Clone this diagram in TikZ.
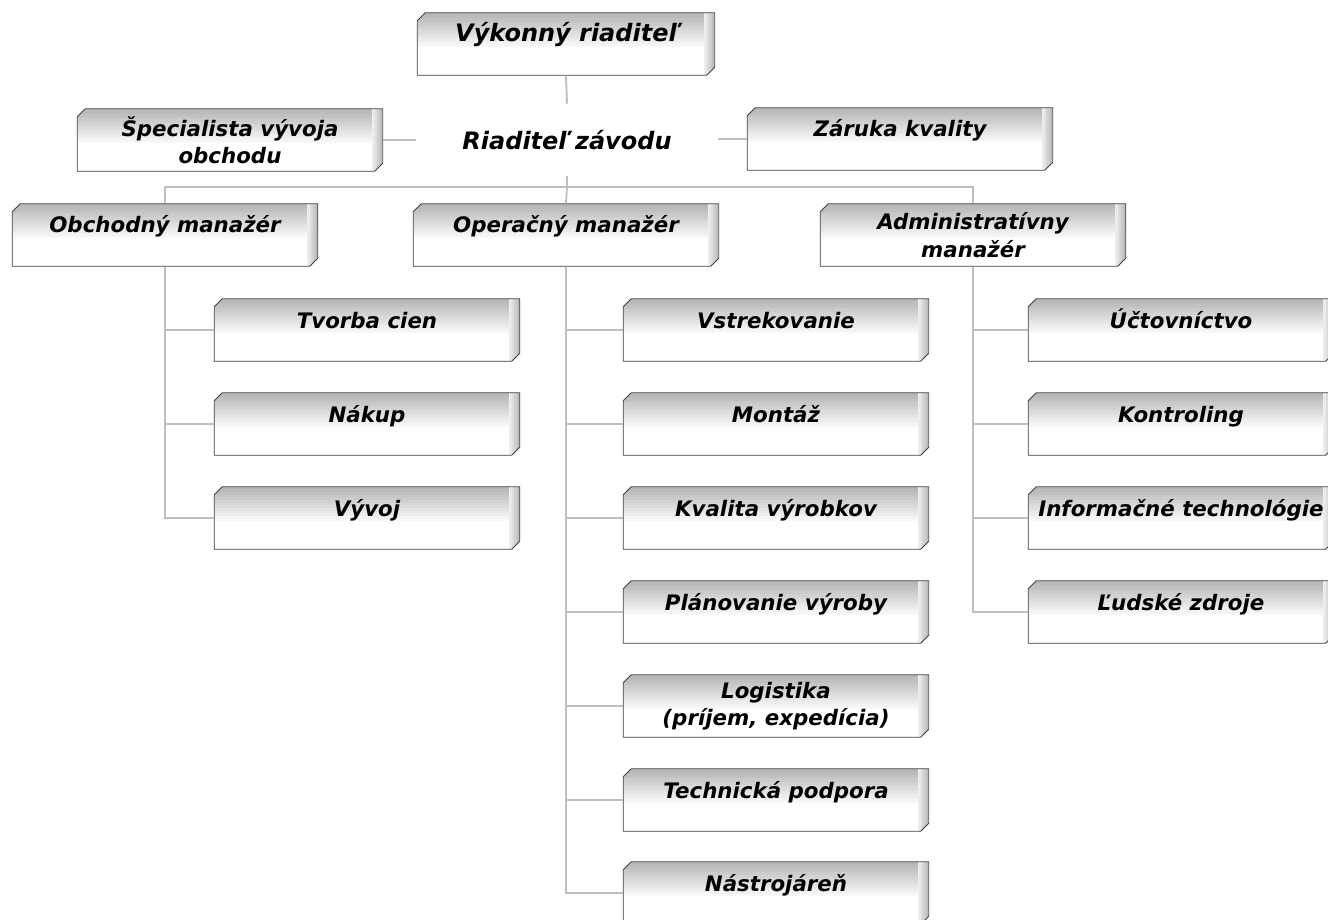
\documentclass[tikz,border=0pt]{standalone}
\usepackage{fontspec}
\setmainfont{DejaVu Sans}
\usetikzlibrary{shapes.misc}
\newcommand{\boxfont}{\fontsize{16}{20.5}\selectfont\bfseries\itshape}
\newcommand{\bigfont}{\fontsize{18}{22}\selectfont\bfseries\itshape}

\begin{document}
\begin{tikzpicture}
[x=.75pt,y=-.75pt]
\tikzset{box/.style={chamfered rectangle,chamfered rectangle corners={north west,south east},
  chamfered rectangle sep=3pt,draw=black!75,line width=.6pt,fill=white,
  minimum width=229pt,minimum height=47pt,inner sep=2pt,align=center,font=\boxfont,
  path picture={
    % top bevel
    \foreach \i [evaluate=\i as \c using 58-4.4*\i] in {0,...,12}
      \fill[gray!\c] ([yshift=-2pt*\i]path picture bounding box.north west) rectangle ([yshift=-2pt*\i-2.1pt]path picture bounding box.north east);
    % right side
    \foreach \j [evaluate=\j as \c using 12+6*\j] in {0,...,7}
      \fill[gray!\c] ([xshift=-8pt+1pt*\j]path picture bounding box.north east) rectangle ([xshift=-6.9pt+1pt*\j]path picture bounding box.south east);}}}
\tikzset{single/.style={text height=11.5pt,text depth=14.5pt}}
\tikzset{conn/.style={draw=gray!50,line width=1.4pt}}
\path[use as bounding box,fill=white] (0,0) rectangle (1328,920);

% top
\node [box,single,font=\bigfont,text height=13pt,text depth=16pt,minimum width=223pt] (vyk) at (566,44) {Výkonný riaditeľ};
\node [font=\bigfont,minimum width=226pt,minimum height=54pt] (riad) at (567,140) {Riaditeľ závodu};
\node [box] (spec) at (230,140) {Špecialista vývoja\\obchodu};
\node [box,single] (zar) at (900,139) {Záruka kvality};

% managers
\node [box,single] (obm) at (165,235) {Obchodný manažér};
\node [box,single] (opm) at (566,235) {Operačný manažér};
\node [box] (adm) at (973,235) {Administratívny\\manažér};

% Obchodny
\node [box,single] (tc) at (367,330) {Tvorba cien};
\node [box,single] (nak) at (367,424) {Nákup};
\node [box,single] (vyv) at (367,518) {Vývoj};

% Operacny
\node [box,single] (vst) at (776,330) {Vstrekovanie};
\node [box,single] (mon) at (776,424) {Montáž};
\node [box,single] (kva) at (776,518) {Kvalita výrobkov};
\node [box,single] (pla) at (776,612) {Plánovanie výroby};
\node [box] (log) at (776,706) {Logistika\\(príjem, expedícia)};
\node [box,single] (tech) at (776,800) {Technická podpora};
\node [box,single] (nas) at (776,893) {Nástrojáreň};

% Administrativny
\node [box,single] (uct) at (1181,330) {Účtovníctvo};
\node [box,single] (kon) at (1181,424) {Kontroling};
\node [box,single] (inf) at (1181,518) {Informačné technológie};
\node [box,single] (lz) at (1181,612) {Ľudské zdroje};

\coordinate (bus) at (567,187);
\draw [conn] (vyk.south) -- (riad.north);
\draw [conn] (spec.east) -- (spec.east -| riad.west);
\draw [conn] (zar.west) -- (zar.west -| riad.east);
\draw [conn] (riad.south) -- (bus) -| (obm.north);
\draw [conn] (bus) -| (adm.north);
\draw [conn] (bus) -- (opm.north);

\foreach \from/\to in {obm/tc,obm/nak,obm/vyv,opm/vst,opm/mon,opm/kva,opm/pla,opm/log,opm/tech,opm/nas,adm/uct,adm/kon,adm/inf,adm/lz}
	\draw [conn] (\from.south) |- (\to.west);

\end{tikzpicture}
\end{document}
